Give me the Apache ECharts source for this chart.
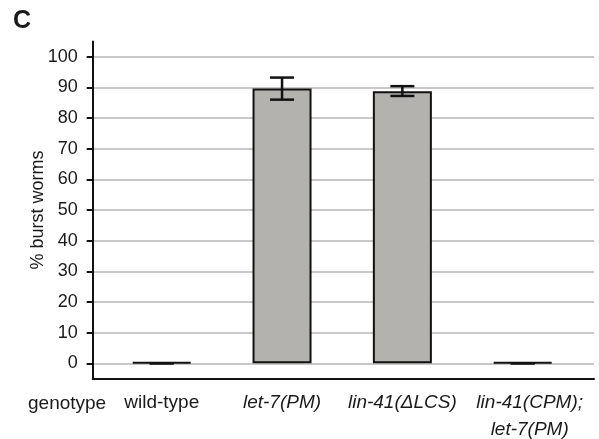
<!DOCTYPE html>
<html>
<head>
<meta charset="utf-8">
<script src="https://cdn.jsdelivr.net/npm/echarts@6/dist/echarts.min.js"></script>
<style>
  html, body { margin: 0; padding: 0; background: #fff; }
  #chart { width: 599px; height: 439px; }
</style>
</head>
<body>
<div id="chart"></div>
<script>
// genotypes, in plotting order (x positions 1..4)
const genotypes = ['wild-type', 'let-7(PM)', 'lin-41(ΔLCS)', 'lin-41(CPM);\nlet-7(PM)'];
const labelStyle = ['n', 'it', 'it', 'itr'];
// % burst worms, mean and error range
const burstMean = [0, 89.6, 88.75, 0];
const burstLow  = [0, 86.0, 87.2, 0];
const burstHigh = [0, 93.2, 90.4, 0];
const yTicks = [0, 10, 20, 30, 40, 50, 60, 70, 80, 90, 100];

const FONT = 'Liberation Sans, Arial, sans-serif';
const TXT = '#1a1a1a';
const chart = echarts.init(document.getElementById('chart'));

const xPos = genotypes.map((g, i) => i + 1);

chart.setOption({
  animation: false,
  title: [
    { text: 'C', left: 8, top: 4, textStyle: { fontFamily: FONT, fontSize: 25, fontWeight: 'bold', color: TXT } },
    { text: 'genotype', left: 23, top: 389, textStyle: { fontFamily: FONT, fontSize: 19, fontWeight: 'normal', color: TXT } }
  ],
  grid: { left: 92.7, right: 5, top: 41.4, bottom: 60.4, outerBoundsMode: 'none' },
  xAxis: {
    type: 'value',
    min: 1 - 69 / 120.3,
    max: 4 + 71.3 / 120.3,
    axisLine: { show: true, onZero: false, lineStyle: { color: '#111', width: 2 } },
    axisTick: { show: false },
    splitLine: { show: false },
    axisLabel: {
      customValues: xPos,
      margin: 11,
      lineHeight: 27,
      fontFamily: FONT,
      fontSize: 19,
      color: TXT,
      formatter: v => {
        const i = Math.round(v) - 1;
        return genotypes[i].split('\n').map(s => '{' + labelStyle[i] + '|' + s + '}').join('\n');
      },
      rich: {
        n: { fontFamily: FONT, fontSize: 19, color: TXT, lineHeight: 27 },
        it: { fontFamily: FONT, fontSize: 19, fontStyle: 'italic', color: TXT, lineHeight: 27 },
        itr: { fontFamily: FONT, fontSize: 19, fontStyle: 'italic', color: TXT, lineHeight: 27, padding: [0, 0, 0, 14] }
      }
    }
  },
  yAxis: {
    type: 'value',
    min: -5,
    max: 105,
    name: '% burst worms',
    nameLocation: 'middle',
    nameGap: 46,
    nameMoveOverlap: false,
    nameTextStyle: { fontFamily: FONT, fontSize: 18, color: TXT },
    axisLine: { show: true, lineStyle: { color: '#111', width: 2 } },
    axisTick: { show: true, customValues: yTicks, length: 6, lineStyle: { color: '#111', width: 2 } },
    axisLabel: { customValues: yTicks, margin: 15, fontFamily: FONT, fontSize: 18, color: TXT },
    splitLine: { show: true, lineStyle: { color: '#c8c8c8', width: 2 } }
  },
  series: [
    {
      type: 'bar',
      barWidth: 59,
      barMinHeight: 1,
      data: xPos.map((x, i) => [x, burstMean[i]]),
      itemStyle: { color: '#b3b2ae', borderColor: '#111', borderWidth: 2 },
      z: 3
    },
    {
      type: 'custom',
      z: 4,
      data: xPos.map((x, i) => [x, burstLow[i], burstHigh[i]]),
      renderItem: (params, api) => {
        const x = api.value(0);
        const lo = api.coord([x, api.value(1)]);
        const hi = api.coord([x, api.value(2)]);
        const hw = 12;
        const style = { stroke: '#111', lineWidth: 2.5 };
        return {
          type: 'group',
          children: [
            { type: 'line', shape: { x1: hi[0], y1: hi[1], x2: lo[0], y2: lo[1] }, style },
            { type: 'line', shape: { x1: hi[0] - hw, y1: hi[1], x2: hi[0] + hw, y2: hi[1] }, style },
            { type: 'line', shape: { x1: lo[0] - hw, y1: lo[1], x2: lo[0] + hw, y2: lo[1] }, style }
          ]
        };
      }
    }
  ]
});
</script>
</body>
</html>
